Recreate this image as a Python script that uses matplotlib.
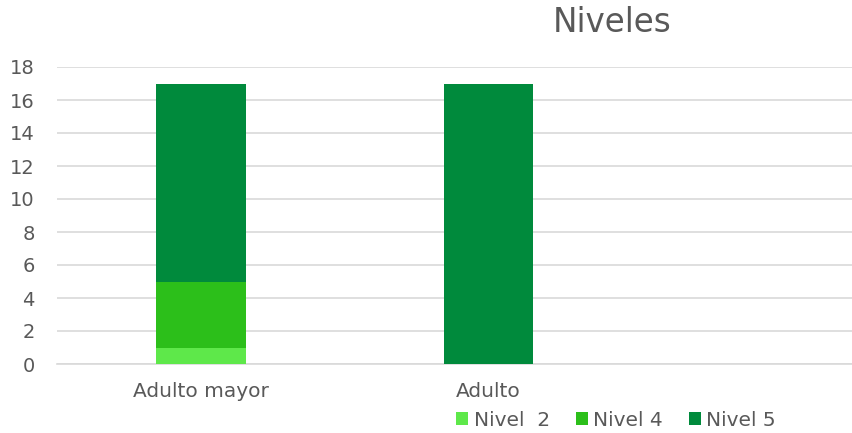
import matplotlib.pyplot as plt
import numpy as np

categories = ["Adulto mayor", "Adulto", ""]
nivel_2 = [1, 0, 0]
nivel_4 = [4, 0, 0]
nivel_5 = [12, 17, 0]

colors = ["#5ee84a", "#2cbf1a", "#008a3c"]
labels = ["Nivel  2", "Nivel 4", "Nivel 5"]
text_color = "#595959"

fig = plt.figure(figsize=(8.52, 4.33), dpi=100)
ax = fig.add_axes([57 / 852, 1 - 364 / 433, 1 - 57 / 852, (364 - 67) / 433])

x = np.arange(len(categories))
bottom = np.zeros(len(categories))
for vals, col, lab in zip([nivel_2, nivel_4, nivel_5], colors, labels):
    ax.bar(x, vals, width=90 / 288, bottom=bottom, color=col, label=lab, zorder=3)
    bottom += np.array(vals)

ax.set_xlim(-0.5, (852 - 200) / 288)
ax.set_ylim(0, 18)
ax.set_yticks(range(0, 19, 2))
ax.set_xticks(x)
ax.set_xticklabels(categories, fontsize=14.5)
ax.grid(axis="y", color="#d9d9d9", linewidth=1.2, zorder=0)
for s in ["top", "right", "left"]:
    ax.spines[s].set_visible(False)
ax.spines["bottom"].set_color("#d9d9d9")
ax.spines["bottom"].set_linewidth(1.2)
ax.tick_params(axis="both", length=0, colors=text_color)
ax.tick_params(axis="y", labelsize=14, pad=16)
ax.tick_params(axis="x", pad=13)

fig.text(612 / 852, 1 - 23 / 433, "Niveles", ha="center", va="center",
         fontsize=23.5, color=text_color)

fig.legend(loc="center", bbox_to_anchor=(616 / 852, 1 - 420 / 433), ncol=3,
           frameon=False, fontsize=14.5, handlelength=0.6, handleheight=0.6,
           handletextpad=0.25, columnspacing=1.3, labelcolor=text_color)

fig.savefig("out.png", dpi=100)
